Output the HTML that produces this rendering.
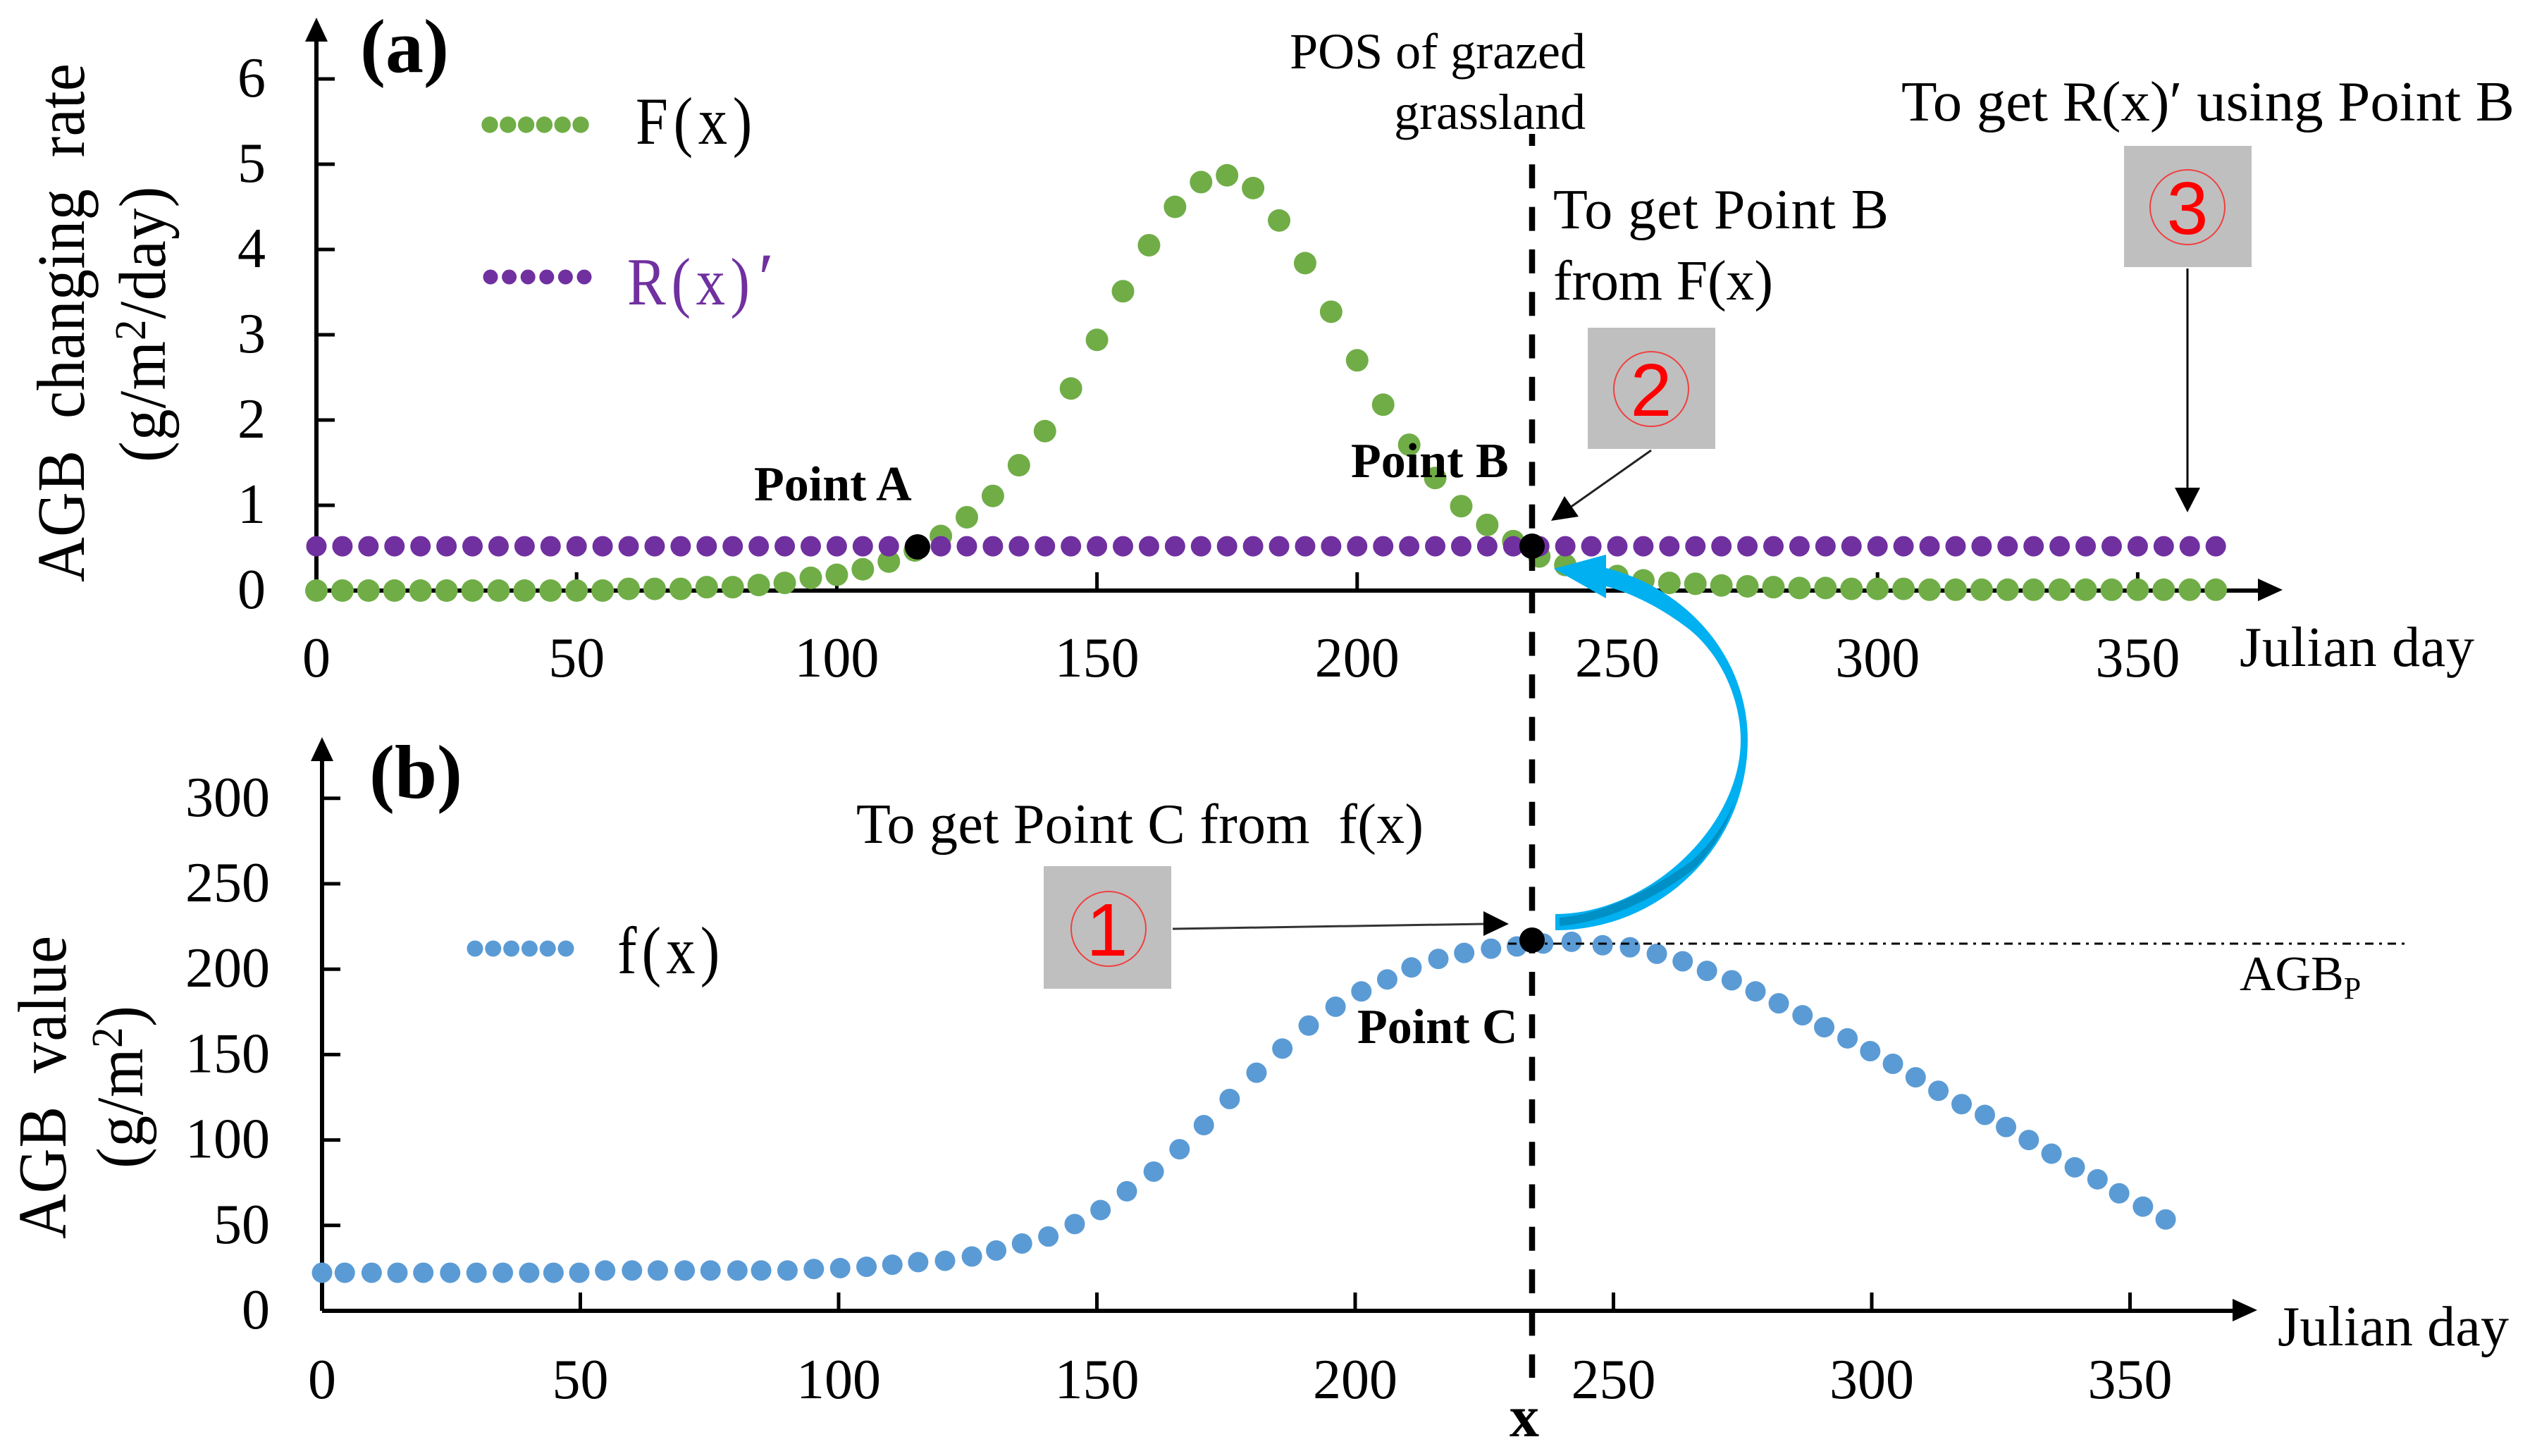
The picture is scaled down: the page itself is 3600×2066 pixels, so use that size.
<!DOCTYPE html>
<html lang="en">
<head>
<meta charset="utf-8">
<title>AGB changing rate and AGB value</title>
<style>
html,body{margin:0;padding:0;background:#fff;}
svg{display:block;}
text{font-family:"Liberation Serif",serif;fill:#000;}
.t{font-size:80px;}
.b{font-weight:bold;}
</style>
</head>
<body>
<svg id="chart" xmlns="http://www.w3.org/2000/svg" width="3600" height="2066" viewBox="0 0 3600 2066">
<rect width="3600" height="2066" fill="#fff"/>
<g id="axes-a"></g>
<g id="axes-b"></g>
<g id="series-f-cap"></g>
<g id="series-r"></g>
<g id="series-f"></g>

<line x1="2140" y1="1339" x2="3419" y2="1339" stroke="#000" stroke-width="3" stroke-dasharray="12 8 4 8"/>
<line x1="2174" y1="190" x2="2174" y2="1955" stroke="#000" stroke-width="8.5" stroke-dasharray="34 26.3" stroke-dashoffset="17"/>

<circle cx="1302" cy="776" r="18" fill="#000"/>
<circle cx="2174" cy="775" r="18" fill="#000"/>
<circle cx="2174" cy="1334" r="18" fill="#000"/>

<path fill="#00b0f0" d="M2205 807 L2279 787 L2279 806 A273 253 0 0 1 2480 1050 A273 270 0 0 1 2207 1320 L2207 1297 C2338.5 1297 2470 1173.5 2470 1050 C2470 990 2440 925 2393 890 C2360 865 2320 843 2279 832 L2279 849 Z"/>
<path fill="#0090c6" d="M2213 1302 C2270 1298 2340 1265 2400 1222 C2430 1195 2450 1165 2462 1135 C2450 1175 2430 1205 2405 1232 C2350 1275 2280 1308 2213 1314 Z"/>

<text transform="translate(119,826) rotate(-90) scale(0.92,1)" style="font-size:96px" textLength="800" lengthAdjust="spacing">AGB&#160;&#160;changing&#160;&#160;rate</text>
<text transform="translate(234,656) rotate(-90) scale(0.95,1)" style="font-size:94px" textLength="412" lengthAdjust="spacing">(g/m<tspan font-size="62" dy="-28">2</tspan><tspan dy="28">/day)</tspan></text>
<text transform="translate(93,1758) rotate(-90) scale(0.9,1)" style="font-size:98px" textLength="478" lengthAdjust="spacing">AGB&#160;&#160;value</text>
<text transform="translate(202,1658) rotate(-90) scale(0.95,1)" style="font-size:94px" textLength="243" lengthAdjust="spacing">(g/m<tspan font-size="62" dy="-29">2</tspan><tspan dy="29">)</tspan></text>

<text class="b" x="511" y="102" style="font-size:108px">(a)</text>
<text class="b" x="524" y="1132" style="font-size:108px">(b)</text>

<g id="legend-f-cap"></g>
<text transform="translate(902,204) scale(0.87,1)" style="font-size:95px" textLength="190" lengthAdjust="spacing">F(x)</text>
<g id="legend-r"></g>
<text transform="translate(890,432) scale(0.87,1)" style="font-size:95px;fill:#7030a0" textLength="200" lengthAdjust="spacing">R(x)</text>
<text x="1070" y="428" style="font-size:100px;font-style:italic;fill:#7030a0">′</text>
<g id="legend-f"></g>
<text transform="translate(876,1381) scale(0.87,1)" style="font-size:95px" textLength="167" lengthAdjust="spacing">f(x)</text>

<text class="b" x="1070" y="710" style="font-size:70px">Point A</text>
<text class="b" x="1917" y="677" style="font-size:70px">Point B</text>
<text class="b" x="1926" y="1480" style="font-size:70px">Point C</text>

<text x="2250" y="97" text-anchor="end" style="font-size:72px">POS of grazed</text>
<text x="2250" y="183" text-anchor="end" style="font-size:72px">grassland</text>
<text class="t" x="2204" y="324" textLength="476" lengthAdjust="spacing">To get Point B</text>
<text class="t" x="2204" y="425" textLength="312" lengthAdjust="spacing">from&#160;F(x)</text>
<text class="t" x="2698" y="171" textLength="870" lengthAdjust="spacingAndGlyphs">To get R(x)′ using Point B</text>
<text class="t" x="1215" y="1196" textLength="805" lengthAdjust="spacing">To get Point C from&#160;&#160;f(x)</text>
<text class="t" x="3178" y="945" textLength="333" lengthAdjust="spacing">Julian day</text>
<text class="t" x="3232" y="1909" textLength="328" lengthAdjust="spacing">Julian day</text>
<text x="3178" y="1405" style="font-size:70px">AGB<tspan font-size="44" dy="12">P</tspan></text>
<text class="b" x="2142" y="2038" style="font-size:84px">x</text>

<g>
<rect x="1481" y="1229" width="181" height="174" fill="#bfbfbf"/>
<circle cx="1573" cy="1318" r="53" fill="none" stroke="#f04040" stroke-width="2"/>
<text x="1571" y="1356" text-anchor="middle" style="font-family:'Liberation Sans',sans-serif;font-size:106px;fill:#f00">1</text>
</g>
<g>
<rect x="2253" y="465" width="181" height="172" fill="#bfbfbf"/>
<circle cx="2343" cy="552" r="53" fill="none" stroke="#f04040" stroke-width="2"/>
<text x="2343" y="590" text-anchor="middle" style="font-family:'Liberation Sans',sans-serif;font-size:106px;fill:#f00">2</text>
</g>
<g>
<rect x="3014" y="207" width="181" height="172" fill="#bfbfbf"/>
<circle cx="3104" cy="294" r="53" fill="none" stroke="#f04040" stroke-width="2"/>
<text x="3104" y="332" text-anchor="middle" style="font-family:'Liberation Sans',sans-serif;font-size:106px;fill:#f00">3</text>
</g>

<g>
<line x1="1664" y1="1318" x2="2108" y2="1311" stroke="#333" stroke-width="3"/>
<polygon points="2141,1311 2105,1293 2105,1328" fill="#000"/>
</g>
<g>
<line x1="2343" y1="639" x2="2228" y2="720" stroke="#222" stroke-width="3"/>
<polygon points="2201,739 2220,704 2240,733" fill="#000"/>
</g>
<g>
<line x1="3104" y1="381" x2="3104" y2="695" stroke="#000" stroke-width="3"/>
<polygon points="3104,727 3086,692 3122,692" fill="#000"/>
</g>
</svg>

<script>
const xTickValues = [0, 50, 100, 150, 200, 250, 300, 350];
const yTicksA = [0, 1, 2, 3, 4, 5, 6];
const yTicksB = [0, 50, 100, 150, 200, 250, 300];

const daysA = [0,5,10,15,20,25,30,35,40,45,50,55,60,65,70,75,80,85,90,95,100,105,110,115,120,125,130,135,140,145,150,155,160,165,170,175,180,185,190,195,200,205,210,215,220,225,230,235,240,245,250,255,260,265,270,275,280,285,290,295,300,305,310,315,320,325,330,335,340,345,350,355,360,365];
const valuesCapF = [0,0,0,0,0,0,0,0,0,0,0,0,0.02,0.02,0.02,0.04,0.04,0.065,0.09,0.15,0.185,0.25,0.34,0.47,0.64,0.86,1.11,1.47,1.87,2.37,2.94,3.51,4.05,4.5,4.79,4.87,4.72,4.34,3.84,3.27,2.7,2.18,1.71,1.32,0.99,0.77,0.58,0.4,0.3,0.23,0.17,0.12,0.09,0.08,0.06,0.05,0.04,0.03,0.03,0.02,0.02,0.02,0.01,0.01,0.01,0.01,0.01,0.01,0.01,0.01,0.01,0.01,0.01,0.01];
const valuesR = [0.52,0.52,0.52,0.52,0.52,0.52,0.52,0.52,0.52,0.52,0.52,0.52,0.52,0.52,0.52,0.52,0.52,0.52,0.52,0.52,0.52,0.52,0.52,0.52,0.52,0.52,0.52,0.52,0.52,0.52,0.52,0.52,0.52,0.52,0.52,0.52,0.52,0.52,0.52,0.52,0.52,0.52,0.52,0.52,0.52,0.52,0.52,0.52,0.52,0.52,0.52,0.52,0.52,0.52,0.52,0.52,0.52,0.52,0.52,0.52,0.52,0.52,0.52,0.52,0.52,0.52,0.52,0.52,0.52,0.52,0.52,0.52,0.52,0.52];

const daysB = [0,4.4,9.6,14.6,19.6,24.8,29.9,35,40.1,44.8,49.8,54.8,60,65,70.2,75.2,80.4,85,90.1,95.2,100.3,105.4,110.4,115.4,120.6,125.8,130.5,135.5,140.6,145.7,150.7,155.8,161,166,170.7,175.7,180.9,185.9,191,196.2,201.2,206.2,210.9,216.1,221.1,226.3,231.3,236.4,241.9,247.9,253.2,258.4,263.4,268.1,272.9,277.5,282,286.6,290.8,295.3,299.7,304.1,308.5,312.9,317.4,321.9,326,330.4,334.8,339.3,343.7,347.9,352.5,356.9];
const valuesF = [22.3,22.3,22.3,22.3,22.3,22.3,22.3,22.3,22.3,22.3,22.3,23.6,23.6,23.6,23.6,23.6,23.6,23.6,23.6,24.5,25,25.8,27,28.5,29.3,31.8,35.3,39.4,43.5,50.8,59,70,81.5,94.6,108.7,124,139.4,153.5,167,178,187,194,201,206,209.5,212,213.3,215,216,214,212.8,209,204.6,199,193.5,187,180,173,166,159.5,152,144.6,136.7,128.8,121,114.7,107.6,100,92,84,77,68.8,61,53.5];

const NS = 'http://www.w3.org/2000/svg';
const xA = d => 449 + 7.384 * d;
const yA = v => 838 - 121 * v;
const xB = d => 457 + 7.33 * d;
const yB = v => 1860 - 2.424 * v;

function make(tag, attrs, parent) {
  const el = document.createElementNS(NS, tag);
  for (const k in attrs) el.setAttribute(k, attrs[k]);
  parent.appendChild(el);
  return el;
}

function drawAxes(group, x, y, yTicks, opt) {
  const x0 = x(0), y0 = y(0);
  const yAxisLine = make('line', {x1:x0, y1:y0, x2:x0, y2:opt.yTip + 20, stroke:'#000', 'stroke-width':6}, group);
  
  
  const yHead = make('polygon', {points:`${x0},${opt.yTip} ${x0-16},${opt.yTip+34} ${x0+16},${opt.yTip+34}`, fill:'#000'}, group);
  
  
  const xAxisLine = make('line', {x1:x0, y1:y0, x2:opt.xTip - 20, y2:y0, stroke:'#000', 'stroke-width':6}, group);
  
  
  const xHead = make('polygon', {points:`${opt.xTip},${y0-1} ${opt.xTip-35},${y0-17} ${opt.xTip-35},${y0+15}`, fill:'#000'}, group);
  
  
  xTickValues.forEach(v => {
    const tick = make('line', {x1:x(v), y1:y0, x2:x(v), y2:y0-26, stroke:'#000', 'stroke-width':5}, group);
    
    
    const label = make('text', {x:x(v), y:opt.xLabelY, 'text-anchor':'middle', class:'t'}, group);
    
    
    label.textContent = v;
  });
  yTicks.forEach(v => {
    const tick = make('line', {x1:x0, y1:y(v), x2:x0+26, y2:y(v), stroke:'#000', 'stroke-width':5}, group);
    
    
    const label = make('text', {x:opt.yLabelX, y:y(v)+25, 'text-anchor':'end', class:'t'}, group);
    
    
    label.textContent = v;
  });
}

function drawDots(group, days, values, x, y, r, color) {
  days.forEach((d, i) => {
    const dot = make('circle', {cx:x(d), cy:y(values[i]), r:r, fill:color}, group);
    
    
  });
}

function drawLegend(group, x0, y0, step, r, color) {
  for (let i = 0; i < 6; i++) {
    const dot = make('circle', {cx:x0 + i * step, cy:y0, r:r, fill:color}, group);
    
    
  }
}

drawAxes(document.getElementById('axes-a'), xA, yA, yTicksA, {yTip:25, xTip:3239, xLabelY:960, yLabelX:377});
drawAxes(document.getElementById('axes-b'), xB, yB, yTicksB, {yTip:1046, xTip:3203, xLabelY:1984, yLabelX:383});
drawDots(document.getElementById('series-f-cap'), daysA, valuesCapF, xA, yA, 16, '#70ad47');
drawDots(document.getElementById('series-r'), daysA, valuesR, xA, yA, 14.5, '#7030a0');
drawDots(document.getElementById('series-f'), daysB, valuesF, xB, yB, 14.5, '#5b9bd5');
drawLegend(document.getElementById('legend-f-cap'), 695, 177, 25.8, 11.7, '#70ad47');
drawLegend(document.getElementById('legend-r'), 696, 393, 26.6, 10.5, '#7030a0');
drawLegend(document.getElementById('legend-f'), 674, 1346, 25.8, 11.5, '#5b9bd5');
</script>
</body>
</html>
